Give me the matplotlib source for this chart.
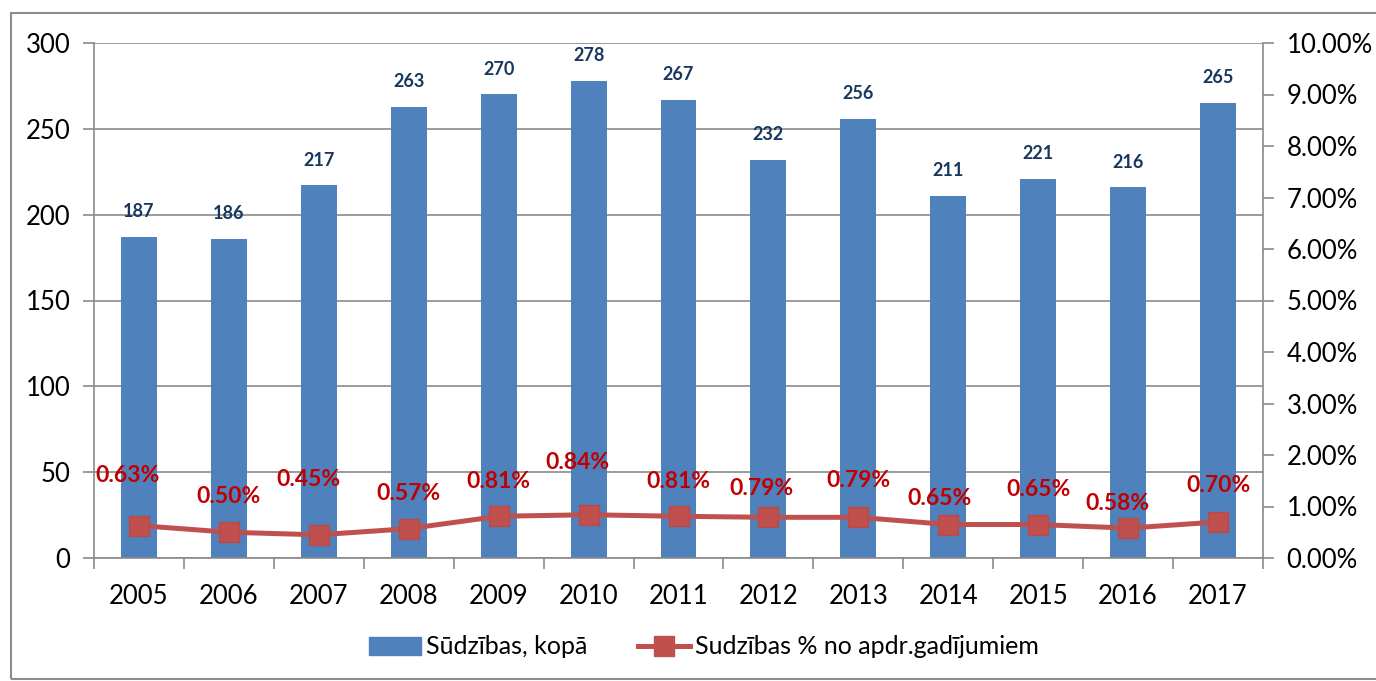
import matplotlib
matplotlib.use("Agg")
import matplotlib.pyplot as plt
from matplotlib.ticker import FuncFormatter, MultipleLocator
from matplotlib.patches import Rectangle
from matplotlib.lines import Line2D

years = ["2005", "2006", "2007", "2008", "2009", "2010", "2011",
         "2012", "2013", "2014", "2015", "2016", "2017"]
complaints = [187, 186, 217, 263, 270, 278, 267, 232, 256, 211, 221, 216, 265]
pct = [0.63, 0.50, 0.45, 0.57, 0.81, 0.84, 0.81, 0.79, 0.79, 0.65, 0.65, 0.58, 0.70]

bar_label = "Sūdzības, kopā"
line_label = "Sudzības % no apdr.gadījumiem"

# label offsets (points) for the percentage labels, style only
pct_off = [(-8, 36), (0, 26), (-7.5, 39.5), (0, 25), (0, 25), (-8, 37.5), (0, 25),
           (-5, 21), (0, 26.5), (-6, 19), (0, 25), (-8, 18), (0, 26.5)]

plt.rcParams['font.family'] = ['Lato', 'DejaVu Sans']

fig = plt.figure(figsize=(13.76, 6.81), dpi=100)
ax = fig.add_axes([94/1376, 1-558/681, (1263-94)/1376, (558-43)/681])

x = list(range(len(years)))
bar_color = "#4F81BD"
grid_color = "#8A8A8A"
ax.bar(x, complaints, width=0.4, color=bar_color, zorder=2)
ax.set_xlim(-0.5, len(years)-0.5)
ax.set_ylim(0, 300)
ax.yaxis.set_major_locator(MultipleLocator(50))
ax.grid(axis='y', color=grid_color, linewidth=1.2, zorder=0)
ax.set_axisbelow(True)
ax.set_xticks([i - 0.5 for i in range(len(years)+1)])
ax.set_xticklabels([])
ax.set_xticks(x, minor=True)
ax.set_xticklabels(years, minor=True)
ax.tick_params(axis='x', which='minor', length=0, pad=19, labelsize=18.5)
ax.tick_params(axis='x', which='major', length=8, color=grid_color, width=1.2)
ax.tick_params(axis='y', length=8, color=grid_color, width=1.2, labelsize=18.5, pad=9)
for s in ['top', 'right']:
    ax.spines[s].set_visible(False)
for s in ['left', 'bottom']:
    ax.spines[s].set_color(grid_color)
    ax.spines[s].set_linewidth(1.2)

for xi, v in zip(x, complaints):
    ax.annotate(str(v), (xi, v), xytext=(0, 12), textcoords='offset points',
                ha='center', va='bottom', fontsize=13, fontweight='bold',
                color='#17375E')

ax2 = ax.twinx()
ax2.set_ylim(0, 10)
ax2.yaxis.set_major_locator(MultipleLocator(1))
ax2.yaxis.set_major_formatter(FuncFormatter(lambda v, p: f"{v:.2f}%"))
ax2.tick_params(axis='y', length=8, color=grid_color, width=1.2, labelsize=18.5, pad=9)
for s in ['top', 'left', 'bottom']:
    ax2.spines[s].set_visible(False)
ax2.spines['right'].set_color(grid_color)
ax2.spines['right'].set_linewidth(1.2)

line_color = "#C0504D"
ax2.plot(x, pct, color=line_color, linewidth=3.6, marker='s', markersize=14,
         markerfacecolor=line_color, markeredgecolor="#B84A47", zorder=3)
for xi, v, off in zip(x, pct, pct_off):
    ax2.annotate(f"{v:.2f}%", (xi, v), xytext=off, textcoords='offset points',
                 ha='center', va='center', fontsize=16.5, fontweight='bold',
                 color='#C00000')

handles = [Rectangle((0, 0), 1, 1, color=bar_color),
           Line2D([0], [0], color=line_color, linewidth=3.6, marker='s',
                  markersize=14, markerfacecolor=line_color)]
fig.legend(handles, [bar_label, line_label], loc='center',
           bbox_to_anchor=(704/1376, 1-647/681), ncol=2, frameon=False,
           fontsize=18, handlelength=2.1, handletextpad=0.2, columnspacing=2.0)

fig.patches.append(Rectangle((11/1376, 2/681), 1.2, 1-15/681,
                             transform=fig.transFigure, fill=False,
                             edgecolor="#8C8C8C", linewidth=1.5))

fig.savefig("out.png", dpi=100)
